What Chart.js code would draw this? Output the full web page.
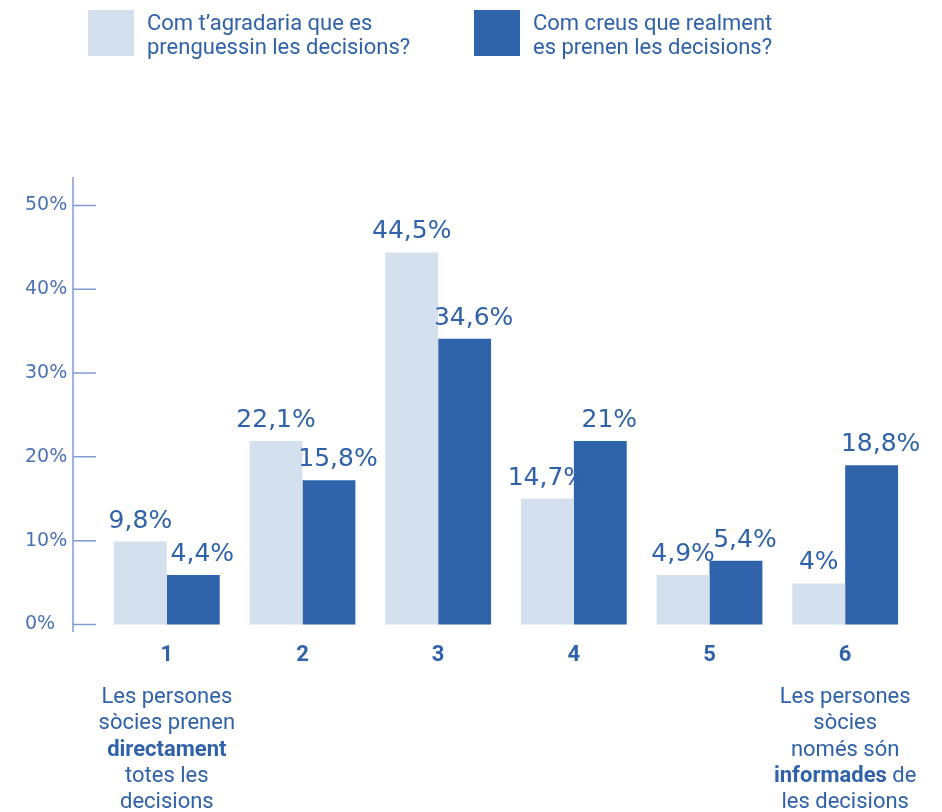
<!DOCTYPE html>
<html>
<head>
<meta charset="utf-8">
<script src="https://cdn.jsdelivr.net/npm/chart.js@4.4.0/dist/chart.umd.min.js"></script>
<style>
  html, body { margin: 0; padding: 0; background: #fff; }
  #wrap { width: 942px; height: 812px; }
</style>
</head>
<body>
<div id="wrap"><canvas id="myChart"></canvas></div>
<script>
const categories = ['1', '2', '3', '4', '5', '6'];
const seriesNames = [
    ['Com t’agradaria que es', 'prenguessin les decisions?'],
    ['Com creus que realment', 'es prenen les decisions?']
];
// bar heights as drawn in the picture
const desiredValues = [9.9, 21.9, 44.4, 15.0, 5.9, 4.9];
const actualValues = [5.9, 17.2, 34.1, 21.9, 7.6, 19.0];
// printed labels
const desiredLabels = ['9,8%', '22,1%', '44,5%', '14,7%', '4,9%', '4%'];
const actualLabels = ['4,4%', '15,8%', '34,6%', '21%', '5,4%', '18,8%'];
const yTicks = [0, 10, 20, 30, 40, 50];
// *word* = bold
const firstNote = ['Les persones', 'sòcies prenen', '*directament*', 'totes les', 'decisions'];
const lastNote = ['Les persones', 'sòcies', 'només són', '*informades* de', 'les decisions'];

const lightBlue = '#d5e0ee';
const darkBlue = '#2f64aa';
const textBlue = '#2f62a8';

const decor = {
    id: 'decor',
    afterDraw(chart) {
        const ctx = chart.ctx;
        const area = chart.chartArea;
        const ys = chart.scales.y;
        const xs = chart.scales.x;
        ctx.save();

        // y axis line with ticks pointing right
        const ax = area.left - 26;
        ctx.strokeStyle = '#7e9ccf';
        ctx.lineWidth = 1.5;
        ctx.beginPath();
        ctx.moveTo(ax, area.top);
        ctx.lineTo(ax, area.bottom);
        yTicks.forEach(v => {
            const py = ys.getPixelForValue(v);
            ctx.moveTo(ax, py);
            ctx.lineTo(ax + 23, py);
        });
        ctx.stroke();

        // value labels
        const texts = [desiredLabels, actualLabels];
        ctx.fillStyle = textBlue;
        ctx.font = '25px "DejaVu Sans"';
        ctx.textAlign = 'center';
        ctx.textBaseline = 'alphabetic';
        chart.data.datasets.forEach((ds, di) => {
            chart.getDatasetMeta(di).data.forEach((bar, i) => {
                ctx.fillText(texts[di][i], bar.x + (di === 1 ? 9 : 0), bar.y - 14);
            });
        });

        // legend
        const legendX = [88, 474];
        chart.data.datasets.forEach((ds, di) => {
            ctx.fillStyle = ds.backgroundColor;
            ctx.fillRect(legendX[di], 10, 46, 46);
            ctx.fillStyle = textBlue;
            ctx.font = '22px Roboto';
            ctx.textAlign = 'left';
            seriesNames[di].forEach((line, li) => {
                ctx.fillText(line, legendX[di] + 59, 30 + li * 24);
            });
        });

        // notes under first and last category
        const drawNote = (lines, cx) => {
            lines.forEach((line, li) => {
                const parts = line.split('*');
                let total = 0;
                parts.forEach((p, pi) => {
                    ctx.font = (pi % 2 ? 'bold ' : '') + '22px Roboto';
                    total += ctx.measureText(p).width;
                });
                let x = cx - total / 2;
                ctx.textAlign = 'left';
                parts.forEach((p, pi) => {
                    ctx.font = (pi % 2 ? 'bold ' : '') + '22px Roboto';
                    ctx.fillText(p, x, 703 + li * 26.3);
                    x += ctx.measureText(p).width;
                });
            });
        };
        ctx.fillStyle = textBlue;
        drawNote(firstNote, xs.getPixelForValue(0));
        drawNote(lastNote, xs.getPixelForValue(categories.length - 1));
        ctx.restore();
    }
};

new Chart(document.getElementById('myChart'), {
    type: 'bar',
    data: {
        labels: categories,
        datasets: [
            {
                label: seriesNames[0].join(' '),
                data: desiredValues,
                backgroundColor: lightBlue,
                barPercentage: 1,
                categoryPercentage: 0.78
            },
            {
                label: seriesNames[1].join(' '),
                data: actualValues,
                backgroundColor: darkBlue,
                barPercentage: 1,
                categoryPercentage: 0.78
            }
        ]
    },
    options: {
        responsive: true,
        maintainAspectRatio: false,
        animation: false,
        layout: {
            padding: { top: 177, left: 25, right: 29, bottom: 0 }
        },
        scales: {
            x: {
                grid: { display: false, drawTicks: false },
                border: { display: false },
                ticks: {
                    color: textBlue,
                    padding: 10,
                    font: { family: 'Roboto', size: 22, weight: 'bold' }
                },
                afterFit: s => { s.height = 180; }
            },
            y: {
                min: -0.9,
                max: 53.4,
                afterBuildTicks: s => { s.ticks = yTicks.map(v => ({ value: v })); },
                afterFit: s => { s.width = 74; },
                grid: { display: false, drawTicks: false },
                border: { display: false },
                ticks: {
                    crossAlign: 'far',
                    padding: 0,
                    color: '#4a72b5',
                    font: { family: 'DejaVu Sans', size: 19 },
                    callback: v => v + '%'
                }
            }
        },
        plugins: {
            legend: { display: false },
            tooltip: { enabled: false }
        }
    },
    plugins: [decor]
});
</script>
</body>
</html>
